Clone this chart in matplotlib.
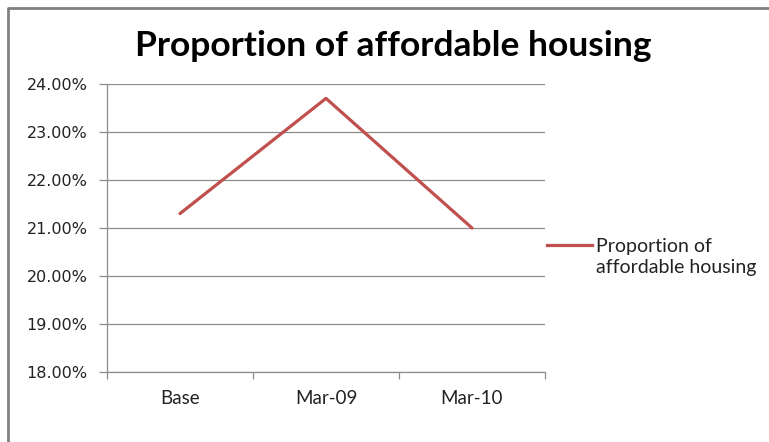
import matplotlib.pyplot as plt
from matplotlib.lines import Line2D
from matplotlib.ticker import PercentFormatter, FixedLocator

categories = ["Base", "Mar-09", "Mar-10"]
proportion = [21.3, 23.7, 21.0]
series_name = "Proportion of\naffordable housing"

fig = plt.figure(figsize=(7.69, 4.42), dpi=100)
ax = fig.add_axes([0.1391, 0.1584, 0.5696, 0.6516])

x = list(range(len(categories)))
ax.plot(x, proportion, color="#C0504D", linewidth=2.3, solid_capstyle="round")

ax.set_xlim(-0.5, len(categories) - 0.5)
ax.set_ylim(18, 24)
ax.set_yticks(range(18, 25))
ax.yaxis.set_major_formatter(PercentFormatter(decimals=2))
ax.grid(axis="y", color="#8c8c8c", linewidth=0.9)
ax.set_axisbelow(True)

ax.set_xticks(x)
ax.set_xticklabels(categories, family="Lato", fontsize=13.5, color="#222222")
ax.xaxis.set_minor_locator(FixedLocator([-0.5, 0.5, 1.5, 2.5]))
ax.tick_params(axis="x", which="major", length=0, pad=13)
ax.tick_params(axis="x", which="minor", length=5, color="#8c8c8c", width=0.9)
ax.tick_params(axis="y", length=6, color="#8c8c8c", width=0.9, labelsize=11.5,
               labelcolor="#222222", pad=8)
for lab in ax.get_yticklabels():
    lab.set_family("DejaVu Sans")

for s in ["top", "right"]:
    ax.spines[s].set_visible(False)
for s in ["left", "bottom"]:
    ax.spines[s].set_color("#8c8c8c")
    ax.spines[s].set_linewidth(0.9)

fig.text(0.512, 0.896, "Proportion of affordable housing", ha="center", va="center",
         family="Lato", fontweight="bold", fontsize=25.5, color="black")

# legend drawn by hand like Excel
fig.add_artist(Line2D([547 / 769, 592 / 769], [1 - 245 / 442, 1 - 245 / 442],
                      color="#C0504D", linewidth=2.3))
fig.text(596 / 769, 1 - 257 / 442, series_name, ha="left", va="center",
         family="Lato", fontsize=14, color="#222222", linespacing=1.3)

# chart frame
fig.add_artist(Line2D([8 / 769, 8 / 769, 1], [0, 1 - 8 / 442, 1 - 8 / 442],
                      color="#808080", linewidth=2))

fig.savefig("out.png", dpi=100)
